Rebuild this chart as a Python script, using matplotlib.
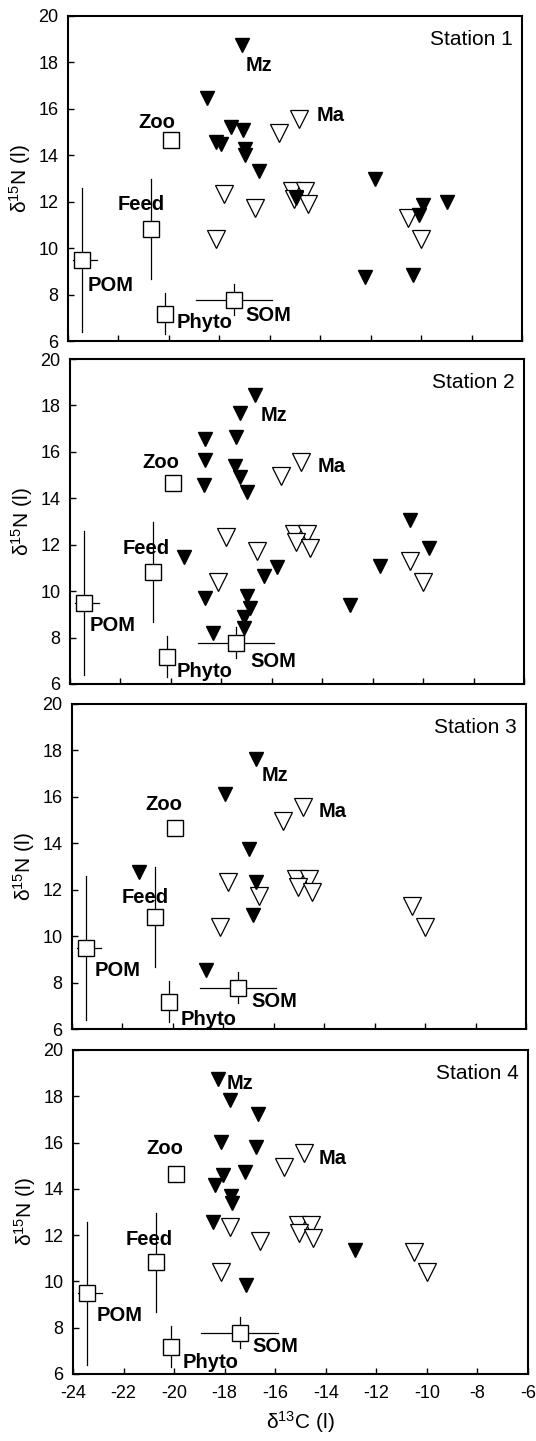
import matplotlib
matplotlib.use('Agg')
import matplotlib.pyplot as plt

plt.rcParams['font.family'] = ['Liberation Sans', 'DejaVu Sans']
plt.rcParams['mathtext.fontset'] = 'custom'
plt.rcParams['mathtext.rm'] = 'Liberation Sans'
plt.rcParams['mathtext.it'] = 'Liberation Sans:italic'
plt.rcParams['axes.unicode_minus'] = False

# sources (same in every station): mean and error bar ends
src_names = ['POM', 'Feed', 'Zoo', 'Phyto', 'SOM']
src_c = [-23.44, -20.71, -19.91, -20.14, -17.41]
src_n = [9.51, 10.83, 14.65, 7.18, 7.78]
src_c_lo = [-23.81, -20.71, -19.91, -20.14, -18.92]
src_c_hi = [-22.87, -20.71, -19.91, -20.14, -15.90]
src_n_lo = [6.39, 8.69, 14.65, 6.29, 7.11]
src_n_hi = [12.57, 12.97, 14.65, 8.07, 8.47]

# macroalgae (open triangles), same in every station
ma_c = [-14.85, -15.65, -17.8, -16.6, -18.15, -15.1, -14.6, -15.05, -14.5, -10.5, -10.0]
ma_n = [15.55, 14.95, 12.35, 11.75, 10.4, 12.45, 12.45, 12.1, 11.88, 11.28, 10.4]

# macrozoobenthos (filled triangles) per station
mz1_c = [-17.12, -18.48, -18.14, -17.94, -17.53, -17.05, -16.99, -17.0, -16.44, -14.95,
         -11.82, -9.94, -10.08, -8.96, -12.23, -10.32]
mz1_n = [18.75, 16.45, 14.58, 14.48, 15.23, 15.11, 14.29, 14.0, 13.33, 12.14,
         12.96, 11.85, 11.42, 11.99, 8.76, 8.83]
mz2_c = [-16.65, -17.27, -18.63, -17.43, -18.63, -17.47, -18.69, -17.27, -17.0, -19.48,
         -18.65, -18.35, -17.0, -16.86, -17.1, -17.1, -16.31, -15.8, -12.91, -11.71,
         -10.53, -9.78]
mz2_n = [18.46, 17.67, 16.55, 16.64, 15.66, 15.4, 14.58, 14.9, 14.29, 11.49,
         9.69, 8.21, 9.77, 9.26, 8.87, 8.4, 10.66, 11.06, 9.41, 11.09,
         13.07, 11.88]
mz3_c = [-16.71, -17.93, -16.98, -21.33, -16.69, -16.82, -18.68]
mz3_n = [17.63, 16.11, 13.74, 12.78, 12.35, 10.91, 8.54]
mz4_c = [-18.27, -17.79, -16.67, -18.13, -16.78, -18.07, -17.18, -18.4, -17.75, -17.72,
         -18.47, -12.85, -17.16]
mz4_n = [18.73, 17.84, 17.24, 16.04, 15.83, 14.6, 14.75, 14.17, 13.67, 13.41,
         12.55, 11.34, 9.86]

stations = ['Station 1', 'Station 2', 'Station 3', 'Station 4']
mz_c = [mz1_c, mz2_c, mz3_c, mz4_c]
mz_n = [mz1_n, mz2_n, mz3_n, mz4_n]

# label anchor points (left edge, centre) for each station
lab_pos = [
    {'Mz': (-16.95, 17.85), 'Ma': (-14.13, 15.73), 'Zoo': (-21.2, 15.4), 'Feed': (-22.02, 11.89),
     'POM': (-23.24, 8.4), 'Phyto': (-19.7, 6.78), 'SOM': (-16.96, 7.1)},
    {'Mz': (-16.45, 17.56), 'Ma': (-14.2, 15.37), 'Zoo': (-21.14, 15.54), 'Feed': (-21.92, 11.85),
     'POM': (-23.21, 8.5), 'Phyto': (-19.76, 6.53), 'SOM': (-16.83, 6.96)},
    {'Mz': (-16.47, 16.91), 'Ma': (-14.24, 15.39), 'Zoo': (-21.08, 15.68), 'Feed': (-22.05, 11.67),
     'POM': (-23.09, 8.5), 'Phyto': (-19.7, 6.39), 'SOM': (-16.88, 7.18)},
    {'Mz': (-17.93, 18.56), 'Ma': (-14.27, 15.32), 'Zoo': (-21.09, 15.76), 'Feed': (-21.93, 11.8),
     'POM': (-23.08, 8.52), 'Phyto': (-19.65, 6.5), 'SOM': (-16.89, 7.17)},
]

W, H = 536, 1441
fig = plt.figure(figsize=(W / 100, H / 100), dpi=100)
# axes boxes in pixels: left, top, right, bottom
boxes = [(68, 16, 522, 341), (70, 359, 524, 684), (72, 704, 526, 1029), (73, 1050, 528, 1374)]

for i in range(4):
    l, t, r, b = boxes[i]
    ax = fig.add_axes([l / W, 1 - b / H, (r - l) / W, (b - t) / H])

    # error bars of the sources
    for j in range(len(src_names)):
        ax.plot([src_c_lo[j], src_c_hi[j]], [src_n[j], src_n[j]], color='black', lw=0.9, zorder=1)
        ax.plot([src_c[j], src_c[j]], [src_n_lo[j], src_n_hi[j]], color='black', lw=0.9, zorder=1)
    ax.plot(src_c, src_n, 's', ms=12, mfc='white', mec='black', mew=1.0, ls='none', zorder=2)

    ax.plot(ma_c, ma_n, 'v', ms=12.5, mfc='white', mec='black', mew=0.9, ls='none', zorder=3)
    ax.plot(mz_c[i], mz_n[i], 'v', ms=10.5, mfc='black', mec='black', ls='none', zorder=4)

    for name, (x, y) in lab_pos[i].items():
        ax.text(x, y, name, fontsize=14.5, fontweight='bold', ha='left', va='center', zorder=5)

    ax.text(0.98, 0.929, stations[i], transform=ax.transAxes, fontsize=15,
            ha='right', va='center')

    ax.set_xlim(-24, -6)
    ax.set_ylim(6, 20)
    ax.set_xticks(range(-24, -5, 2))
    ax.set_yticks(range(6, 21, 2))
    ax.tick_params(direction='in', length=4, width=1, labelsize=13)
    ax.tick_params(axis='x', pad=8)
    ax.tick_params(axis='y', pad=7)
    for s in ax.spines.values():
        s.set_linewidth(1.5)
    ax.set_ylabel(r'$\mathrm{\delta}^{15}$N (l)', fontsize=15)
    ax.yaxis.set_label_coords(-0.077, 0.5)
    if i < 3:
        ax.set_xticklabels([])
    else:
        ax.set_xlabel(r'$\mathrm{\delta}^{13}$C (l)', fontsize=15, labelpad=5)

fig.savefig('out.png', dpi=100)
